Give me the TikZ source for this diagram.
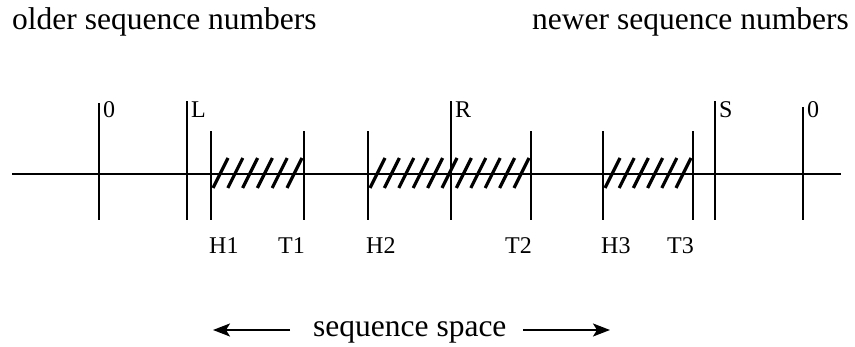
\documentclass[tikz,border=0pt]{standalone}
\usepackage{fontspec}
\setmainfont{Liberation Serif}
\usetikzlibrary{arrows.meta,positioning}

\begin{document}
\begin{tikzpicture}[
  x=1pt, y=-1pt,
  axis/.style={line width=2pt},
  tick/.style={line width=2.2pt},
  hatch/.style={line width=3.2pt},
  marklabel/.style={inner sep=0pt, font=\fontsize{24}{24}\selectfont},
  caption/.style={inner sep=0pt, font=\fontsize{31.5}{32}\selectfont},
  span/.style={line width=2pt, -{Stealth[length=17pt,width=13pt,inset=4pt]}}
]
\useasboundingbox (0,0) rectangle (855,347);

\node[caption, anchor=base west] (older) at (12,30) {older sequence numbers};
\node[caption, anchor=base west] (newer) at (532,30) {newer sequence numbers};

% the sequence line
\coordinate (start) at (12,174);
\coordinate (end) at (841,174);
\draw[axis] (start) -- (end);

% long ticks, labelled above
\foreach \x/\name/\top/\txt in {99/zero/103/0, 187/L/101/L, 451/R/101/R, 715/S/101/S, 803/wrap/107/0} {
  \coordinate (\name) at (\x,220);
  \draw[tick] (\name) -- (\x,\top);
  \node[marklabel, anchor=base west] (\name label) at (\x+4,118) {\txt};
}

% heads and tails, labelled below
\foreach \x/\name in {211/H1, 368/H2, 603/H3} {
  \coordinate (\name) at (\x,220);
  \draw[tick] (\name) -- (\x,131);
  \node[marklabel, anchor=base west] (\name label) at (\x-2,254) {\name};
}
\foreach \x/\name in {304/T1, 531/T2, 693/T3} {
  \coordinate (\name) at (\x,220);
  \draw[tick] (\name) -- (\x,131);
  \node[marklabel, anchor=base east] (\name label) at (\x+1,254) {\name};
}

% hatched blocks
\foreach \h/\t/\n in {211/304/6, 368/531/11, 603/693/6} {
  \pgfmathsetmacro\gap{(\t-\h-19)/(\n-1)}
  \foreach \k in {1,...,\n}
    \draw[hatch] ({\h+2+(\k-1)*\gap},188) -- ++(15,-30);
}

\node[caption, anchor=base west] (space) at (313,337) {sequence space};
\coordinate (back from) at (290,330);
\coordinate (back) at (213,330);
\coordinate (ahead from) at (523,330);
\coordinate (ahead) at (610,330);
\draw[span] (back from) -- (back);
\draw[span] (ahead from) -- (ahead);
\end{tikzpicture}
\end{document}
